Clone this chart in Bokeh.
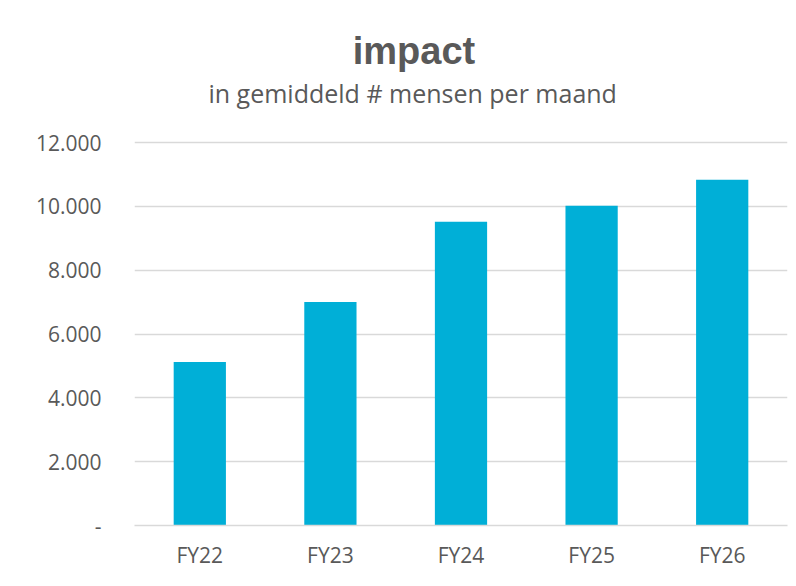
from bokeh.plotting import figure
from bokeh.models import Label, FixedTicker, Range1d
from bokeh.embed import file_html
from bokeh.resources import INLINE

categories = ["FY22", "FY23", "FY24", "FY25", "FY26"]
values = [5120, 7000, 9520, 10020, 10830]
y_ticks = [0, 2000, 4000, 6000, 8000, 10000, 12000]
y_tick_labels = ["-", "2.000", "4.000", "6.000", "8.000", "10.000", "12.000"]
title_text = "impact"
subtitle_text = "in gemiddeld # mensen per maand"

W, H = 790, 580
p = figure(x_range=categories, width=W, height=H, output_backend="svg",
           toolbar_location=None, min_border_left=134, min_border_right=3,
           min_border_top=10, min_border_bottom=55)
# frame extends above the 12.000 gridline so the title block can sit inside it
p.y_range = Range1d(0, 16136)
p.vbar(x=categories, top=values, width=0.4, color="#00AFD7", line_color=None)

p.yaxis.ticker = FixedTicker(ticks=y_ticks)
p.yaxis.major_label_overrides = {t: l for t, l in zip(y_ticks, y_tick_labels)}
p.yaxis.axis_line_color = None
p.yaxis.major_tick_line_color = None
p.yaxis.minor_tick_line_color = None
p.yaxis.major_label_standoff = 27
p.yaxis.major_label_text_font = "Open Sans"
p.yaxis.major_label_text_font_size = "21px"
p.yaxis.major_label_text_color = "#595959"

p.xaxis.axis_line_color = "#d9d9d9"
p.xaxis.axis_line_width = 1.5
p.xaxis.major_tick_line_color = None
p.xaxis.minor_tick_line_color = None
p.xaxis.major_label_standoff = 9
p.xaxis.major_label_text_font = "Open Sans"
p.xaxis.major_label_text_font_size = "21px"
p.xaxis.major_label_text_color = "#595959"

p.xgrid.grid_line_color = None
p.ygrid.grid_line_color = "#d9d9d9"
p.ygrid.grid_line_width = 1.5
p.outline_line_color = None

p.add_layout(Label(x=2.14, y=14880, text=title_text,
                   text_font="Liberation Sans", text_font_style="bold", text_font_size="38px",
                   text_color="#595959", text_align="center", text_baseline="alphabetic"))
p.add_layout(Label(x=2.13, y=13540, text=subtitle_text,
                   text_font="Open Sans", text_font_size="25px",
                   text_color="#595959", text_align="center", text_baseline="alphabetic"))

open("out.html", "w").write(file_html(p, INLINE))
